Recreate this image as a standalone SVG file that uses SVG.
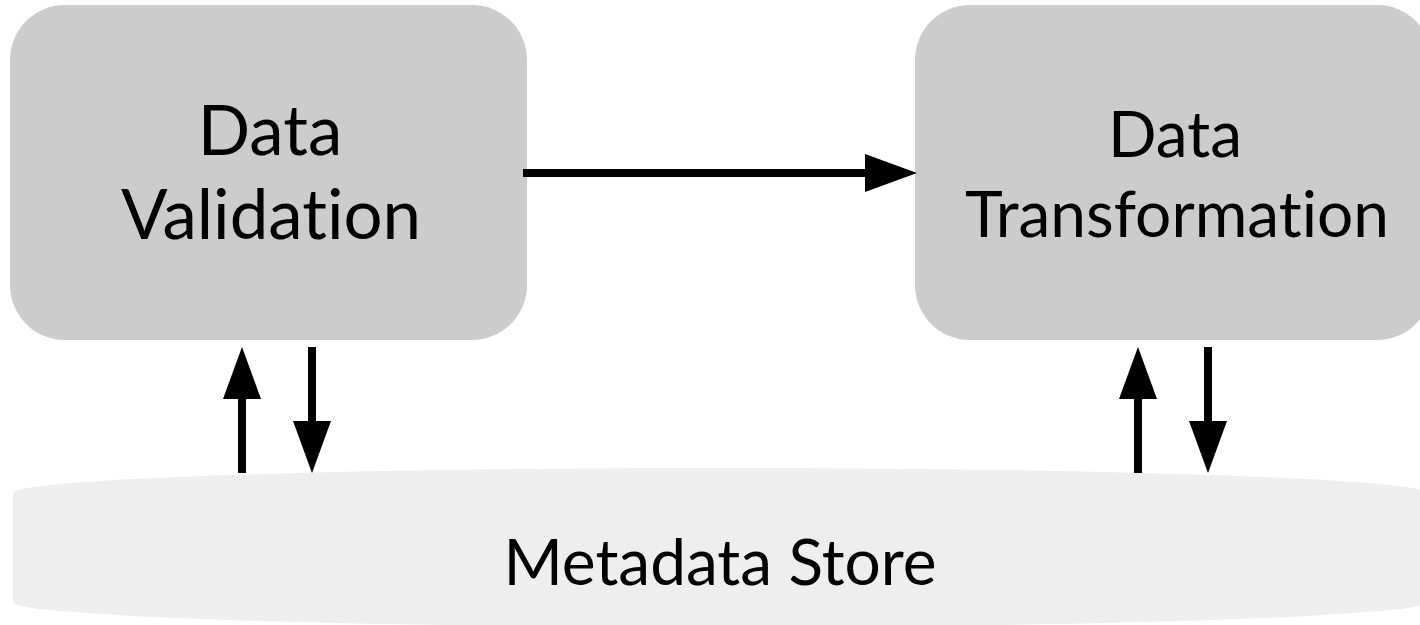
<svg xmlns="http://www.w3.org/2000/svg" width="1420" height="625" viewBox="0 0 1420 625">
  <style>
    .box { fill: #cccccc; }
    .store { fill: #eeeeee; }
    .label { font-family: Lato, "Liberation Sans", sans-serif; font-size: 64px; fill: #000000; text-anchor: middle; font-variant-ligatures: none; font-feature-settings: "liga" 0, "clig" 0; }
    .big { font-size: 69px; }
    .edge { stroke: #000000; stroke-width: 8; fill: none; marker-end: url(#arrow); }
  </style>
  <defs>
    <marker id="arrow" viewBox="0 0 52 38" refX="3" refY="19" markerWidth="52" markerHeight="38" markerUnits="userSpaceOnUse" orient="auto">
      <path d="M0,0 L52,19 L0,38 Z" fill="#000000"/>
    </marker>
  </defs>
  <rect width="1420" height="625" fill="#ffffff"/>
  <g id="node-validation">
    <rect class="box" x="10" y="5" width="517" height="335" rx="55" ry="55"/>
    <text class="label big" x="270" y="155">Data</text>
    <text class="label big" x="271" y="239">Validation</text>
  </g>
  <g id="node-transformation">
    <rect class="box" x="915" y="5" width="517" height="335" rx="55" ry="55"/>
    <text class="label" x="1175" y="157">Data</text>
    <text class="label" x="1177" y="237">Transformation</text>
  </g>
  <g id="node-metadata-store">
    <path class="store" d="M13,493 A707,25 0 0 1 1427,493 L1427,602 A707,25 0 0 1 13,602 Z"/>
    <text class="label" x="720" y="585">Metadata Store</text>
  </g>
  <g id="connectors">
    <line class="edge" x1="523" y1="173" x2="868" y2="173"/>
    <line class="edge" x1="242" y1="473" x2="242" y2="396"/>
    <line class="edge" x1="312" y1="347" x2="312" y2="424"/>
    <line class="edge" x1="1138" y1="473" x2="1138" y2="396"/>
    <line class="edge" x1="1208" y1="347" x2="1208" y2="424"/>
  </g>
</svg>
